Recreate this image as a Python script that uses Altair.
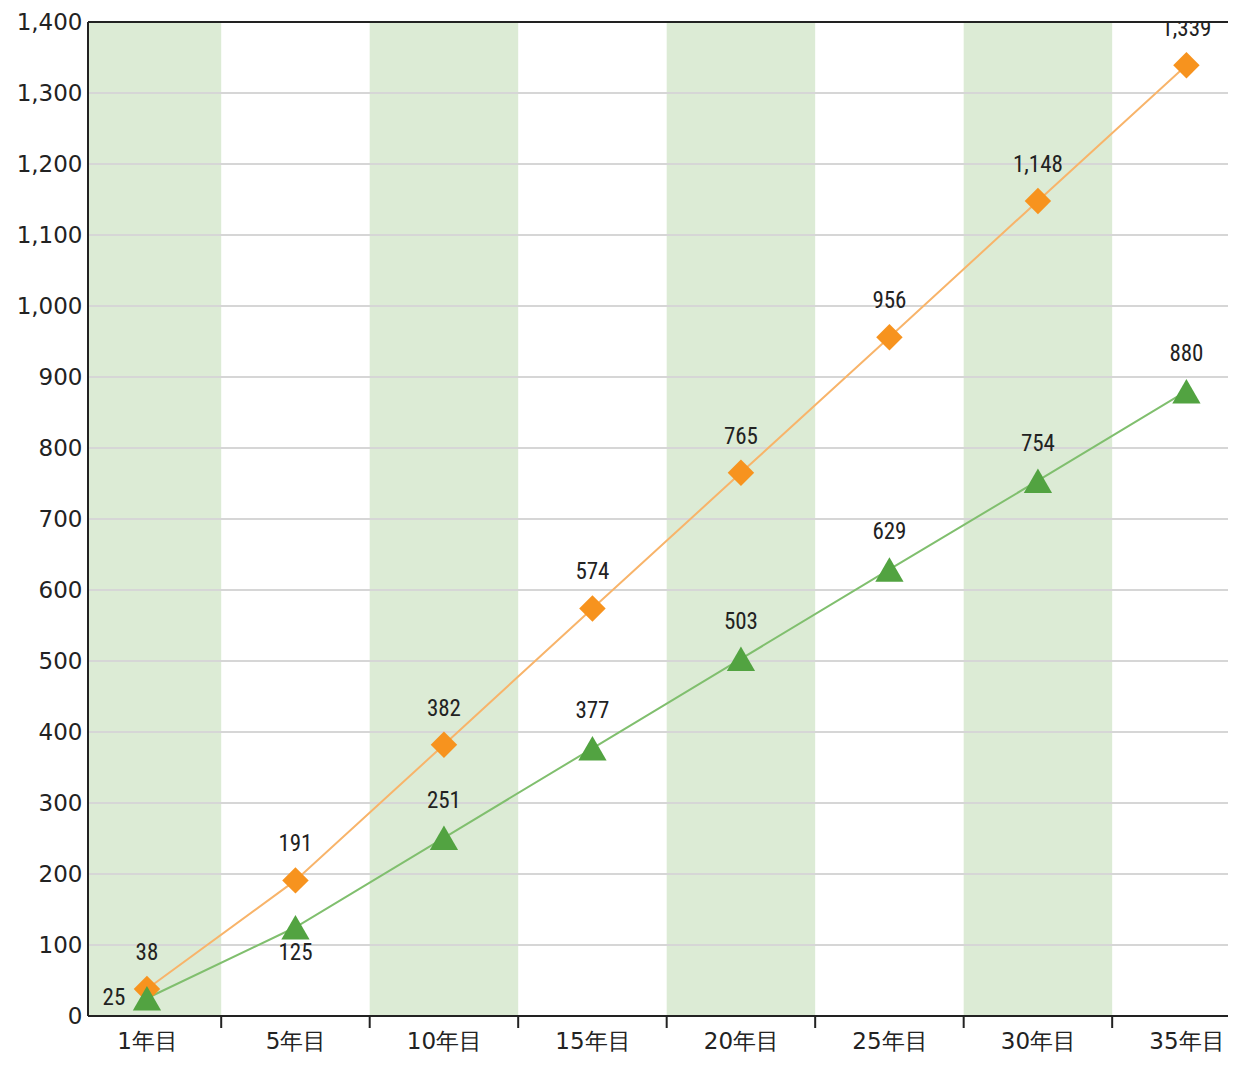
import json
import altair as alt
import pandas as pd

categories = ["1年目", "5年目", "10年目", "15年目", "20年目", "25年目", "30年目", "35年目"]
orange_values = [38, 191, 382, 574, 765, 956, 1148, 1339]
green_values = [25, 125, 251, 377, 503, 629, 754, 880]
y_ticks = list(range(0, 1401, 100))

n = len(categories)
idx = list(range(n))
df = pd.DataFrame({"i": idx, "cat": categories, "orange": orange_values, "green": green_values})
bands = pd.DataFrame({"a": [i - 0.5 for i in idx if i % 2 == 0], "b": [i + 0.5 for i in idx if i % 2 == 0]})
bounds = pd.DataFrame({"t": [i + 0.5 for i in idx[:-1]]})

W, H = 1140, 994
xdom = [-0.397, 7.28]
xs = alt.Scale(domain=xdom, nice=False, zero=False)
ys = alt.Scale(domain=[0, 1400], nice=False)

label_expr = json.dumps(categories, ensure_ascii=False) + "[datum.value]"
AXFONT = "DejaVu Sans"
LBLFONT = "Liberation Sans Narrow, Roboto Condensed, Liberation Sans, Arial"

x_axis = alt.Axis(values=idx, labelExpr=label_expr, tickSize=0, domain=False, grid=False,
                  labelFont=AXFONT, labelFontSize=23, labelColor="#222", labelPadding=14, title=None)
y_axis = alt.Axis(values=y_ticks, labelExpr="format(datum.value, ',')", grid=False, ticks=False,
                  domain=False, labelFont=AXFONT, labelFontSize=23, labelColor="#222", labelPadding=6,
                  title=None)

def X(field):
    return alt.X(field, scale=xs, axis=x_axis, title=None)

def Y(field):
    return alt.Y(field, scale=ys, axis=y_axis, title=None)

base = alt.Chart(df)

band_layer = alt.Chart(bands).mark_rect(color="#dcebd5", clip=True).encode(
    x=X("a:Q"), x2="b:Q", y=alt.value(0), y2=alt.value(H),
)

grid_layer = alt.Chart(pd.DataFrame({"v": y_ticks})).mark_rule(color="#d6d6d6", strokeWidth=2).encode(
    y=Y("v:Q"), x=alt.value(0), x2=alt.value(W),
)

tick_layer = alt.Chart(bounds).mark_rule(color="#222", strokeWidth=2).encode(
    x=X("t:Q"), y=alt.value(H), y2=alt.value(H + 12),
)

bottom_line = alt.Chart(pd.DataFrame({"v": [0]})).mark_rule(color="#222", strokeWidth=2).encode(
    y=Y("v:Q"), x=alt.value(0), x2=alt.value(W))
top_line = alt.Chart(pd.DataFrame({"v": [1400]})).mark_rule(color="#222", strokeWidth=2).encode(
    y=Y("v:Q"), x=alt.value(0), x2=alt.value(W))
left_line = alt.Chart(pd.DataFrame({"v": [0]})).mark_rule(color="#222", strokeWidth=2).encode(
    x=alt.value(0), y=alt.value(0), y2=alt.value(H))

orange_line = base.mark_line(color="#f8b46a", strokeWidth=2).encode(x=X("i:Q"), y=Y("orange:Q"))
green_line = base.mark_line(color="#80bf6e", strokeWidth=2).encode(x=X("i:Q"), y=Y("green:Q"))

orange_pts = base.mark_point(shape="diamond", filled=True, size=700, color="#f7931e", opacity=1).encode(
    x=X("i:Q"), y=Y("orange:Q"))
green_pts = base.mark_point(shape="triangle-up", filled=True, size=800, color="#52a341", opacity=1).encode(
    x=X("i:Q"), y=Y("green:Q"))

orange_txt = base.mark_text(font=LBLFONT, fontSize=23, color="#222", dy=-36, clip=True).encode(
    x=X("i:Q"), y=Y("orange:Q"), text=alt.Text("orange:Q", format=","))

green_above = base.transform_filter("datum.i >= 2").mark_text(font=LBLFONT, fontSize=23, color="#222", dy=-37).encode(
    x=X("i:Q"), y=Y("green:Q"), text=alt.Text("green:Q", format=","))
green_below = base.transform_filter("datum.i == 1").mark_text(font=LBLFONT, fontSize=23, color="#222", dy=26).encode(
    x=X("i:Q"), y=Y("green:Q"), text=alt.Text("green:Q", format=","))
green_left = base.transform_filter("datum.i == 0").mark_text(font=LBLFONT, fontSize=23, color="#222", dx=-33, dy=0).encode(
    x=X("i:Q"), y=Y("green:Q"), text=alt.Text("green:Q", format=","))

chart = alt.layer(
    band_layer, grid_layer, tick_layer, bottom_line, top_line, left_line,
    orange_line, green_line, orange_pts, green_pts,
    orange_txt, green_above, green_below, green_left,
).properties(
    width=W, height=H,
    autosize=alt.AutoSizeParams(type="none"),
    padding={"left": 80, "top": 14, "right": 0, "bottom": 38},
).configure_view(strokeWidth=0).configure(background="white")

chart.save("out.html", embed_options={"renderer": "svg", "actions": False})
